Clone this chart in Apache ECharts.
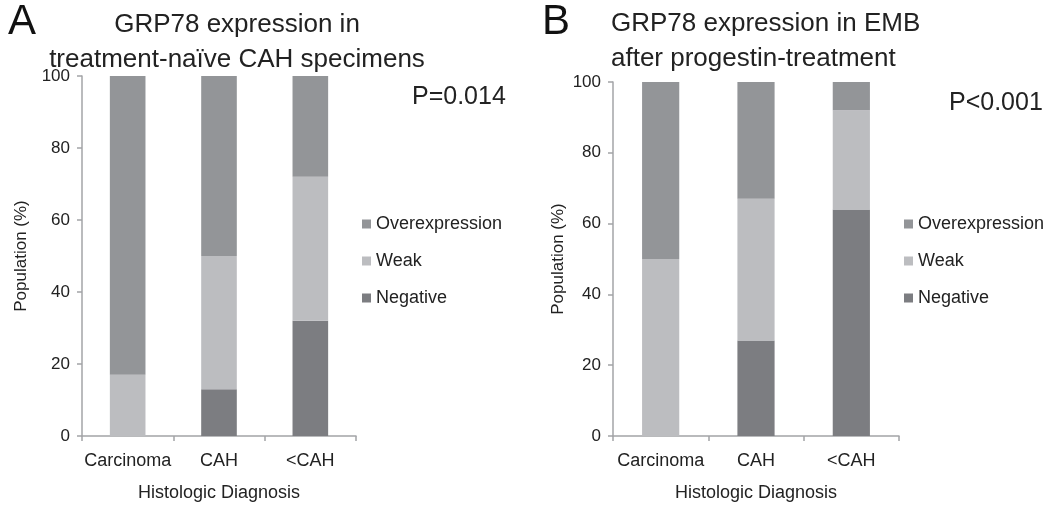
<!DOCTYPE html>
<html>
<head>
<meta charset="utf-8">
<script src="https://cdn.jsdelivr.net/npm/echarts@6/dist/echarts.min.js"></script>
<style>html,body{margin:0;padding:0;background:#fff}#c{width:1050px;height:509px}</style>
</head>
<body>
<div id="c"></div>
<script>
var categories = ['Carcinoma', 'CAH', '<CAH'];
var seriesNames = ['Overexpression', 'Weak', 'Negative'];
// Panel A: treatment-naive CAH specimens (%)
var aNegative = [0, 13, 32];
var aWeak = [17, 37, 40];
var aOver = [83, 50, 28];
// Panel B: EMB after progestin treatment (%)
var bNegative = [0, 27, 64];
var bWeak = [50, 40, 28];
var bOver = [50, 33, 8];
var yTicks = [0, 20, 40, 60, 80, 100];

var FONT = 'Liberation Sans, Arial, Helvetica, sans-serif';
var colors = { Overexpression: '#939598', Weak: '#bcbdc0', Negative: '#7c7d81' };
var axisColor = '#a3a4a7';

function xAxis(idx) {
  return {
    type: 'category', gridIndex: idx, data: categories,
    axisLine: { lineStyle: { color: axisColor, width: 1.5 } },
    axisTick: { show: true, length: 5, lineStyle: { color: axisColor, width: 1.5 }, alignWithLabel: false },
    axisLabel: { color: '#222', fontFamily: FONT, fontSize: 18, margin: 16, interval: 0 },
    name: 'Histologic Diagnosis', nameLocation: 'middle', nameGap: 48,
    nameTextStyle: { color: '#222', fontFamily: FONT, fontSize: 18 }
  };
}
function yAxis(idx, gap) {
  return {
    type: 'value', gridIndex: idx, min: 0, max: 100, interval: 20,
    axisLine: { show: true, lineStyle: { color: axisColor, width: 1.5 } },
    axisTick: { show: true, length: 5, lineStyle: { color: axisColor, width: 1.5 } },
    splitLine: { show: false },
    axisLabel: { color: '#222', fontFamily: FONT, fontSize: 17, margin: 12,
      formatter: function (v) { return yTicks.indexOf(v) >= 0 ? String(v) : ''; } },
    name: 'Population (%)', nameLocation: 'middle', nameGap: gap,
    nameTextStyle: { color: '#222', fontFamily: FONT, fontSize: 17 }
  };
}
function bar(name, data, idx, stack) {
  return {
    type: 'bar', name: name, data: data, stack: stack,
    xAxisIndex: idx, yAxisIndex: idx, barWidth: '39%',
    itemStyle: { color: colors[name] }, emphasis: { disabled: true }
  };
}
function legend(left) {
  return {
    orient: 'vertical', left: left, top: 209,
    data: seriesNames, icon: 'rect', itemWidth: 9, itemHeight: 9, itemGap: 17,
    textStyle: { color: '#222', fontFamily: FONT, fontSize: 18, lineHeight: 20 },
    selectedMode: false
  };
}

var chart = echarts.init(document.getElementById('c'), null, { renderer: 'canvas' });
chart.setOption({
  animation: false,
  backgroundColor: '#fff',
  title: [
    { text: 'A', left: 3, top: -4, textStyle: { fontFamily: FONT, fontSize: 42, fontWeight: 'normal', color: '#111' } },
    { text: 'B', left: 537, top: -4, textStyle: { fontFamily: FONT, fontSize: 42, fontWeight: 'normal', color: '#111' } },
    { text: 'GRP78 expression in\ntreatment-naïve CAH specimens', left: 232, top: 2, textAlign: 'center',
      textStyle: { fontFamily: FONT, fontSize: 26, fontWeight: 'normal', color: '#222', lineHeight: 35, align: 'center' } },
    { text: 'GRP78 expression in EMB\nafter progestin-treatment', left: 606, top: 1,
      textStyle: { fontFamily: FONT, fontSize: 26, fontWeight: 'normal', color: '#222', lineHeight: 35 } },
    { text: 'P=0.014', left: 407, top: 80, textStyle: { fontFamily: FONT, fontSize: 25, fontWeight: 'normal', color: '#222' } },
    { text: 'P<0.001', left: 944, top: 86, textStyle: { fontFamily: FONT, fontSize: 25, fontWeight: 'normal', color: '#222' } }
  ],
  legend: [legend(357), legend(899)],
  grid: [
    { left: 82, top: 76, width: 274, height: 360 },
    { left: 613, top: 82, width: 286, height: 354 }
  ],
  xAxis: [xAxis(0), xAxis(1)],
  yAxis: [yAxis(0, 52), yAxis(1, 46)],
  series: [
    bar('Negative', aNegative, 0, 'A'),
    bar('Weak', aWeak, 0, 'A'),
    bar('Overexpression', aOver, 0, 'A'),
    bar('Negative', bNegative, 1, 'B'),
    bar('Weak', bWeak, 1, 'B'),
    bar('Overexpression', bOver, 1, 'B')
  ]
});
</script>
</body>
</html>
